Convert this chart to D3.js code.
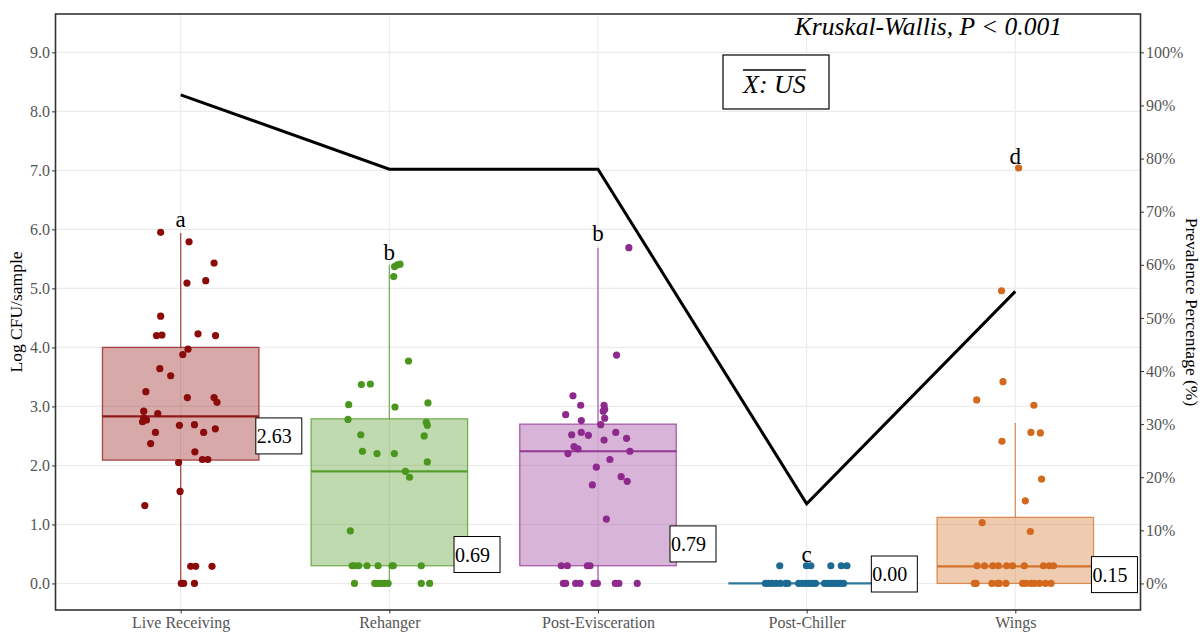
<!DOCTYPE html>
<html>
<head>
<meta charset="utf-8">
<script src="https://cdn.jsdelivr.net/npm/d3@7/dist/d3.min.js"></script>
<style>
  body { margin: 0; background: #fff; }
  svg { display: block; }
</style>
</head>
<body>
<div id="chart"></div>
<script>
// Données
const categories = ["Live Receiving", "Rehanger", "Post-Evisceration", "Post-Chiller", "Wings"];
const colors = ["#8b0a0a", "#4a961e", "#8e2a8e", "#1b6a94", "#d2691e"];

// stats des boîtes : [min, q1, médiane, q3, max]
const boxStats = [
  [0, 2.09, 2.83, 4.0, 5.94],
  [0, 0.3, 1.9, 2.79, 5.4],
  [0, 0.3, 2.24, 2.7, 5.69],
  [0, 0, 0, 0, 0],
  [0, 0, 0.29, 1.12, 2.72]
];

// points : [décalage jitter (unité de catégorie), log CFU]
const ptsLive = [
  [-0.096, 5.95], [0.04, 5.79], [0.16, 5.43], [0.03, 5.09], [0.12, 5.13], [-0.096, 4.53],
  [-0.116, 4.2], [-0.09, 4.21], [0.083, 4.23], [0.167, 4.2], [0.035, 3.97], [0.01, 3.88],
  [-0.10, 3.64], [-0.048, 3.52], [-0.167, 3.25], [0.032, 3.15], [0.16, 3.15], [0.174, 3.07],
  [-0.177, 2.92], [-0.11, 2.88], [-0.177, 2.8], [-0.164, 2.77], [-0.183, 2.74], [-0.006, 2.68],
  [0.066, 2.69], [0.11, 2.56], [0.166, 2.62], [-0.121, 2.56], [-0.144, 2.37], [0.068, 2.23],
  [0.104, 2.1], [0.13, 2.1], [-0.01, 2.05], [-0.003, 1.56], [-0.172, 1.32],
  [0.048, 0.29], [0.072, 0.29], [0.15, 0.29], [0.003, 0], [0.014, 0], [0.066, 0]
];
const ptsRehanger = [
  [0.025, 5.37], [0.038, 5.4], [0.051, 5.41], [0.021, 5.2], [0.092, 3.77], [-0.134, 3.37],
  [-0.091, 3.38], [-0.195, 3.03], [0.027, 2.99], [0.185, 3.06], [-0.198, 2.78], [0.177, 2.73],
  [0.182, 2.68], [-0.137, 2.52], [0.167, 2.5], [-0.129, 2.24], [-0.059, 2.2], [0.024, 2.2],
  [0.182, 2.06], [0.077, 1.9], [0.097, 1.8], [-0.187, 0.89],
  [-0.178, 0.3], [-0.166, 0.3], [-0.147, 0.3], [-0.107, 0.3], [-0.054, 0.3], [0.013, 0.3], [0.019, 0.3], [0.153, 0.3],
  [-0.167, 0], [-0.07, 0], [-0.056, 0], [-0.04, 0], [-0.024, 0], [-0.006, 0], [0.153, 0], [0.193, 0]
];
const ptsEvisc = [
  [0.148, 5.69], [0.089, 3.87], [-0.12, 3.18], [-0.083, 3.02], [0.029, 3.02], [-0.155, 2.86],
  [0.025, 2.92], [0.032, 2.95], [-0.08, 2.76], [0.032, 2.8], [0.013, 2.69], [-0.126, 2.52],
  [-0.08, 2.56], [-0.046, 2.51], [0.085, 2.56], [0.137, 2.46], [0.029, 2.43], [-0.115, 2.32],
  [-0.096, 2.28], [-0.144, 2.2], [0.153, 2.24], [0.057, 2.1], [-0.008, 1.97], [0.111, 1.81],
  [0.14, 1.73], [-0.027, 1.67], [0.04, 1.09],
  [-0.176, 0.3], [-0.147, 0.3], [-0.051, 0.3], [-0.038, 0.3],
  [-0.166, 0], [-0.155, 0], [-0.107, 0], [-0.086, 0], [-0.019, 0], [-0.003, 0], [0.083, 0], [0.1, 0], [0.188, 0]
];
const ptsChiller = [
  [-0.129, 0.3], [-0.001, 0.3], [0.02, 0.3], [0.116, 0.3], [0.166, 0.3], [0.193, 0.3],
  [-0.198, 0], [-0.182, 0], [-0.166, 0], [-0.147, 0], [-0.126, 0], [-0.1, 0], [-0.09, 0],
  [-0.038, 0], [-0.022, 0], [-0.006, 0], [0.01, 0], [0.025, 0], [0.042, 0], [0.086, 0],
  [0.102, 0], [0.118, 0], [0.129, 0], [0.145, 0], [0.161, 0], [0.177, 0]
];
const ptsWings = [
  [0.016, 7.04], [-0.066, 4.96], [-0.059, 3.42], [-0.185, 3.11], [0.089, 3.02], [0.075, 2.56],
  [0.12, 2.55], [-0.064, 2.41], [0.126, 1.77], [0.048, 1.4], [-0.159, 1.03], [0.072, 0.88],
  [-0.183, 0.3], [-0.148, 0.3], [-0.108, 0.3], [-0.081, 0.3], [-0.041, 0.3], [-0.013, 0.3],
  [0.043, 0.3], [0.135, 0.3], [0.163, 0.3], [0.183, 0.3],
  [-0.196, 0], [-0.188, 0], [-0.112, 0], [-0.085, 0], [-0.077, 0], [-0.045, 0], [0.035, 0],
  [0.051, 0], [0.075, 0], [0.091, 0], [0.115, 0], [0.144, 0], [0.171, 0]
];
const points = [ptsLive, ptsRehanger, ptsEvisc, ptsChiller, ptsWings];

// lettres de significativité et position (log CFU)
const letters = ["a", "b", "b", "c", "d"];
const letterY = [6.16, 5.6, 5.92, 0.49, 7.24];

// étiquettes (moyenne) : texte, position x (décalage en catégorie), y (log CFU)
const meanLabels = ["2.63", "0.69", "0.79", "0.00", "0.15"];
const meanLabelDx = [0.36, 0.31, 0.345, 0.31, 0.365];
const meanLabelY = [2.5, 0.49, 0.67, 0.16, 0.15];

// prévalence (%)
const prevalence = [92, 78, 78, 15, 55];

const yTicks = d3.range(0, 10, 1);
const pctTicks = d3.range(0, 101, 10);

// Dimensions
const W = 1204, H = 632;
const panel = { left: 55.5, right: 1140.5, top: 14, bottom: 610 };
const serif = "'Liberation Serif', 'Times New Roman', serif";

const svg = d3.select("#chart").append("svg")
  .attr("width", W).attr("height", H);

// Échelles
const x = d3.scalePoint().domain(categories).range([panel.left, panel.right]).padding(0.6);
const step = x.step();
const y = d3.scaleLinear().domain([-0.45, 9.65]).range([panel.bottom, panel.top]);
const yPct = d3.scaleLinear().domain([-0.45 * 100 / 9, 9.65 * 100 / 9]).range([panel.bottom, panel.top]);
const boxW = step * 0.75;

// Grille
const grid = svg.append("g");
grid.selectAll(".gy").data(yTicks).enter().append("line")
  .attr("x1", panel.left).attr("x2", panel.right)
  .attr("y1", d => y(d)).attr("y2", d => y(d))
  .style("stroke", "#ebebeb").style("stroke-width", 1.1);
grid.selectAll(".gx").data(categories).enter().append("line")
  .attr("x1", d => x(d)).attr("x2", d => x(d))
  .attr("y1", panel.top).attr("y2", panel.bottom)
  .style("stroke", "#ebebeb").style("stroke-width", 1.1);

// Boîtes
categories.forEach((cat, i) => {
  const s = boxStats[i];
  const cx = x(cat);
  const g = svg.append("g");
  // moustaches
  g.append("line").attr("x1", cx).attr("x2", cx).attr("y1", y(s[0])).attr("y2", y(s[1]))
    .style("stroke", colors[i]).style("stroke-opacity", 0.7).style("stroke-width", 1.3);
  g.append("line").attr("x1", cx).attr("x2", cx).attr("y1", y(s[3])).attr("y2", y(s[4]))
    .style("stroke", colors[i]).style("stroke-opacity", 0.7).style("stroke-width", 1.3);
  // boîte
  g.append("rect")
    .attr("x", cx - boxW / 2).attr("width", boxW)
    .attr("y", y(s[3])).attr("height", Math.max(0, y(s[1]) - y(s[3])))
    .style("fill", colors[i]).style("fill-opacity", 0.35)
    .style("stroke", colors[i]).style("stroke-opacity", 0.7).style("stroke-width", 1.3);
  // médiane
  g.append("line").attr("x1", cx - boxW / 2).attr("x2", cx + boxW / 2)
    .attr("y1", y(s[2])).attr("y2", y(s[2]))
    .style("stroke", colors[i]).style("stroke-opacity", 0.9).style("stroke-width", 2.2);
});

// Points
categories.forEach((cat, i) => {
  svg.append("g").selectAll("circle").data(points[i]).enter().append("circle")
    .attr("cx", d => x(cat) + d[0] * step)
    .attr("cy", d => y(d[1]))
    .attr("r", 3.6)
    .style("fill", colors[i]);
});

// Ligne de prévalence
const line = d3.line().x((d, i) => x(categories[i])).y(d => yPct(d));
svg.append("path").datum(prevalence)
  .attr("d", line)
  .style("fill", "none").style("stroke", "#000").style("stroke-width", 3);

// Lettres
svg.append("g").selectAll("text").data(letters).enter().append("text")
  .attr("x", (d, i) => x(categories[i]))
  .attr("y", (d, i) => y(letterY[i]))
  .attr("dy", "0.32em")
  .attr("text-anchor", "middle")
  .style("font-family", serif).style("font-size", "23px").style("fill", "#000")
  .text(d => d);

// Étiquettes des moyennes
meanLabels.forEach((lab, i) => {
  const lx = x(categories[i]) + meanLabelDx[i] * step;
  const ly = y(meanLabelY[i]);
  const g = svg.append("g");
  g.append("rect").attr("x", lx).attr("y", ly - 18).attr("width", 46).attr("height", 36)
    .style("fill", "#fff").style("stroke", "#000").style("stroke-width", 1);
  g.append("text").attr("x", lx + 1).attr("y", ly + 7)
    .style("font-family", serif).style("font-size", "20px").style("fill", "#000")
    .text(lab);
});

// Cadre du panneau
svg.append("rect")
  .attr("x", panel.left).attr("y", panel.top)
  .attr("width", panel.right - panel.left).attr("height", panel.bottom - panel.top)
  .style("fill", "none").style("stroke", "#333").style("stroke-width", 1.6);

// Axes
const axisStyle = g => {
  g.select(".domain").remove();
  g.selectAll(".tick line").style("stroke", "#333").style("stroke-width", 1);
  g.selectAll(".tick text").style("font-family", serif).style("font-size", "16px").style("fill", "#555");
};
svg.append("g").attr("transform", `translate(${panel.left},0)`)
  .call(d3.axisLeft(y).tickValues(yTicks).tickFormat(d3.format(".1f")).tickSize(3.5).tickPadding(2))
  .call(axisStyle);
svg.append("g").attr("transform", `translate(${panel.right},0)`)
  .call(d3.axisRight(yPct).tickValues(pctTicks).tickFormat(d => d + "%").tickSize(3.5).tickPadding(2))
  .call(axisStyle);
svg.append("g").attr("transform", `translate(0,${panel.bottom})`)
  .call(d3.axisBottom(x).tickSize(3.5).tickPadding(3))
  .call(axisStyle);

// Titres des axes
svg.append("text")
  .attr("transform", `translate(22,${(panel.top + panel.bottom) / 2}) rotate(-90)`)
  .attr("text-anchor", "middle")
  .style("font-family", serif).style("font-size", "17.5px").style("fill", "#000")
  .text("Log CFU/sample");
svg.append("text")
  .attr("transform", `translate(1186,${(panel.top + panel.bottom) / 2}) rotate(90)`)
  .attr("text-anchor", "middle")
  .style("font-family", serif).style("font-size", "17.5px").style("fill", "#000")
  .text("Prevalence Percentage (%)");

// Annotation Kruskal-Wallis
svg.append("text")
  .attr("x", 1062).attr("y", 35)
  .attr("text-anchor", "end")
  .style("font-family", serif).style("font-style", "italic").style("font-size", "25.5px").style("fill", "#000")
  .text("Kruskal-Wallis, P < 0.001");

// Encadré X: US
svg.append("rect").attr("x", 723).attr("y", 55).attr("width", 106).attr("height", 54)
  .style("fill", "#fff").style("stroke", "#000").style("stroke-width", 1.2);
const xus = svg.append("text").attr("x", 743).attr("y", 93)
  .style("font-family", serif).style("font-style", "italic").style("font-size", "26px").style("fill", "#000")
  .text("X: US");
const tl = xus.node().getComputedTextLength();
svg.append("line").attr("x1", 743).attr("x2", 743 + tl).attr("y1", 70).attr("y2", 70)
  .style("stroke", "#000").style("stroke-width", 1.5);
</script>
</body>
</html>
